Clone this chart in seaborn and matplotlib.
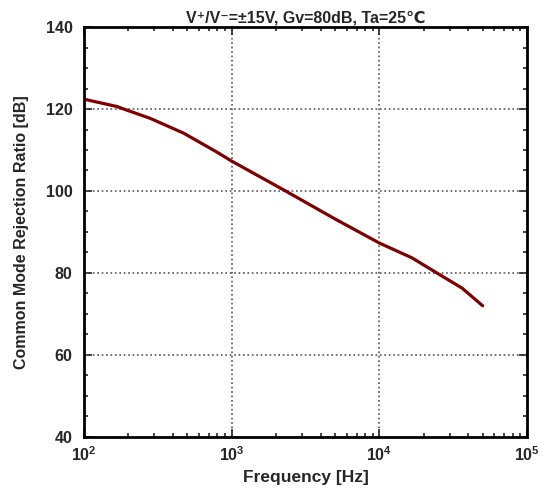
import numpy as np
import pandas as pd
import matplotlib
matplotlib.use("Agg")
import matplotlib.pyplot as plt
import seaborn as sb
from matplotlib.ticker import LogLocator, MultipleLocator, NullFormatter

# data
freq = [100, 168, 186, 282, 474, 794, 1000, 2320, 5000, 10000, 16600, 24500, 36300, 50000]
cmrr = [122.4, 120.6, 120.0, 117.7, 114.1, 109.5, 107.3, 100.0, 93.2, 87.3, 83.7, 80.0, 76.3, 72.0]
df = pd.DataFrame({'freq': freq, 'cmrr': cmrr})

sb.set_style("ticks")
plt.rcParams['font.family'] = ['Liberation Sans', 'DejaVu Sans']
plt.rcParams['font.weight'] = 'bold'
plt.rcParams['mathtext.fontset'] = 'custom'
plt.rcParams['mathtext.rm'] = 'Liberation Sans:bold'
plt.rcParams['mathtext.it'] = 'Liberation Sans:bold'
plt.rcParams['mathtext.bf'] = 'Liberation Sans:bold'

fig = plt.figure(figsize=(5.48, 4.91), dpi=100)
ax = fig.add_axes([0.153, 0.110, 0.809, 0.835])

sb.lineplot(data=df, x='freq', y='cmrr', color='#7f0000', linewidth=2.3, ax=ax)

ax.set_xscale('log')
ax.set_xlim(1e2, 1e5)
ax.set_ylim(40, 140)
ax.yaxis.set_major_locator(MultipleLocator(20))
ax.yaxis.set_minor_locator(MultipleLocator(5))
ax.xaxis.set_major_locator(LogLocator(base=10))
ax.xaxis.set_minor_locator(LogLocator(base=10, subs=np.arange(2, 10)))
ax.xaxis.set_minor_formatter(NullFormatter())

ax.grid(True, which='major', linestyle=':', color='#555555', linewidth=1.2)
ax.tick_params(which='both', direction='in', top=True, right=True, width=1.2, labelsize=11.5)
ax.tick_params(which='major', length=6)
ax.tick_params(which='minor', length=3)
ax.tick_params(axis='y', which='major', pad=8)
ax.tick_params(axis='x', which='major', pad=6)
for s in ax.spines.values():
    s.set_linewidth(2)
    s.set_color('black')

ax.set_xlabel('Frequency [Hz]', fontsize=12.5, fontweight='bold')
ax.set_ylabel('Common Mode Rejection Ratio [dB]', fontsize=11.5, fontweight='bold')
ax.yaxis.set_label_coords(-0.123, 0.5)
ax.set_title('V⁺/V⁻=±15V, Gv=80dB, Ta=25℃', fontsize=11.5, fontweight='bold', pad=3)

fig.savefig('out.png', dpi=100)
